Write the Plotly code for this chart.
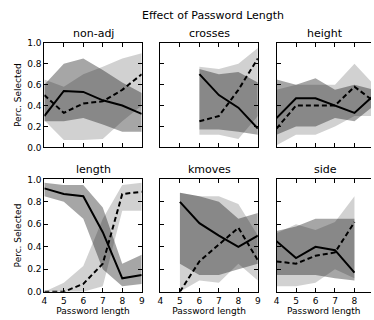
import plotly.graph_objects as go

W, H = 374, 320

panel_names = ["non-adj", "crosses", "height", "length", "kmoves", "side"]

# x values (password length) per panel
x_nonadj = [4, 5, 6, 7, 8, 9]
x_crosses = [6, 7, 8, 9]
x_height = [4, 5, 6, 7, 8, 9]
x_length = [4, 5, 6, 7, 8, 9]
x_kmoves = [5, 6, 7, 8, 9]
x_side = [4, 5, 6, 7, 8]

# solid line series and its band, dashed series and its band
solid_nonadj = [0.30, 0.54, 0.53, 0.45, 0.40, 0.32]
solid_lo_nonadj = [0.25, 0.25, 0.28, 0.22, 0.15, 0.15]
solid_hi_nonadj = [0.60, 0.80, 0.85, 0.74, 0.62, 0.52]
dash_nonadj = [0.50, 0.33, 0.42, 0.44, 0.55, 0.70]
dash_lo_nonadj = [0.26, 0.07, 0.07, 0.08, 0.25, 0.40]
dash_hi_nonadj = [0.65, 0.58, 0.70, 0.77, 0.85, 0.90]

solid_crosses = [0.70, 0.50, 0.38, 0.18]
solid_lo_crosses = [0.17, 0.17, 0.15, 0.12]
solid_hi_crosses = [0.75, 0.70, 0.72, 0.62]
dash_crosses = [0.25, 0.30, 0.55, 0.85]
dash_lo_crosses = [0.12, 0.12, 0.08, 0.30]
dash_hi_crosses = [0.77, 0.75, 0.80, 0.95]

solid_height = [0.28, 0.47, 0.47, 0.40, 0.33, 0.50]
solid_lo_height = [0.12, 0.20, 0.20, 0.28, 0.25, 0.40]
solid_hi_height = [0.65, 0.60, 0.66, 0.55, 0.60, 0.55]
dash_height = [0.18, 0.40, 0.40, 0.40, 0.58, 0.44]
dash_lo_height = [0.02, 0.12, 0.12, 0.20, 0.30, 0.30]
dash_hi_height = [0.55, 0.60, 0.60, 0.60, 0.80, 0.60]

solid_length = [0.92, 0.87, 0.85, 0.53, 0.12, 0.15]
solid_lo_length = [0.85, 0.80, 0.65, 0.20, 0.05, 0.07]
solid_hi_length = [0.97, 0.95, 0.95, 0.75, 0.25, 0.33]
dash_length = [0.00, 0.00, 0.07, 0.25, 0.87, 0.89]
dash_lo_length = [0.00, 0.00, 0.00, 0.05, 0.72, 0.72]
dash_hi_length = [0.00, 0.08, 0.23, 0.65, 0.95, 0.97]

solid_kmoves = [0.80, 0.61, 0.50, 0.40, 0.50]
solid_lo_kmoves = [0.25, 0.15, 0.15, 0.20, 0.25]
solid_hi_kmoves = [0.88, 0.85, 0.80, 0.65, 0.70]
dash_kmoves = [0.00, 0.27, 0.42, 0.57, 0.28]
dash_lo_kmoves = [0.00, 0.10, 0.08, 0.25, 0.10]
dash_hi_kmoves = [0.88, 0.85, 0.85, 0.78, 0.50]

solid_side = [0.45, 0.30, 0.40, 0.37, 0.17]
solid_lo_side = [0.15, 0.15, 0.15, 0.12, 0.10]
solid_hi_side = [0.54, 0.58, 0.65, 0.65, 0.65]
dash_side = [0.27, 0.25, 0.32, 0.35, 0.62]
dash_lo_side = [0.05, 0.05, 0.08, 0.20, 0.12]
dash_hi_side = [0.52, 0.60, 0.55, 0.62, 0.85]

x_ticks = [4, 5, 6, 7, 8, 9]
y_ticks = [0.0, 0.2, 0.4, 0.6, 0.8, 1.0]
y_ticklabels = ["0.0", "0.2", "0.4", "0.6", "0.8", "1.0"]

panels = [
    (x_nonadj, solid_nonadj, solid_lo_nonadj, solid_hi_nonadj, dash_nonadj, dash_lo_nonadj, dash_hi_nonadj),
    (x_crosses, solid_crosses, solid_lo_crosses, solid_hi_crosses, dash_crosses, dash_lo_crosses, dash_hi_crosses),
    (x_height, solid_height, solid_lo_height, solid_hi_height, dash_height, dash_lo_height, dash_hi_height),
    (x_length, solid_length, solid_lo_length, solid_hi_length, dash_length, dash_lo_length, dash_hi_length),
    (x_kmoves, solid_kmoves, solid_lo_kmoves, solid_hi_kmoves, dash_kmoves, dash_lo_kmoves, dash_hi_kmoves),
    (x_side, solid_side, solid_lo_side, solid_hi_side, dash_side, dash_lo_side, dash_hi_side),
]

# pixel layout
col_px = [(42, 141), (160, 259), (278, 377)]
row_px = [(39, 147), (180, 296)]
FONT = "DejaVu Sans"

fig = go.Figure()
layout = dict(
    width=W, height=H, margin=dict(l=0, r=0, t=0, b=0),
    paper_bgcolor="white", plot_bgcolor="white", showlegend=False,
    font=dict(family=FONT, color="black", size=9),
)
annotations = []

for i, (xs, s, slo, shi, d, dlo, dhi) in enumerate(panels):
    r, c = divmod(i, 3)
    n = i + 1
    xa = "x" if n == 1 else f"x{n}"
    ya = "y" if n == 1 else f"y{n}"
    fig.add_trace(go.Scatter(x=xs + xs[::-1], y=dhi + dlo[::-1], fill="toself",
                             fillcolor="rgba(0,0,0,0.18)", line=dict(width=0),
                             mode="lines", hoverinfo="skip", xaxis=xa, yaxis=ya))
    fig.add_trace(go.Scatter(x=xs + xs[::-1], y=shi + slo[::-1], fill="toself",
                             fillcolor="rgba(0,0,0,0.35)", line=dict(width=0),
                             mode="lines", hoverinfo="skip", xaxis=xa, yaxis=ya))
    fig.add_trace(go.Scatter(x=xs, y=s, mode="lines", line=dict(color="black", width=2),
                             xaxis=xa, yaxis=ya))
    fig.add_trace(go.Scatter(x=xs, y=d, mode="lines",
                             line=dict(color="black", width=2, dash="5px,3px"),
                             xaxis=xa, yaxis=ya))
    x0, x1 = col_px[c]
    y0, y1 = row_px[r]
    xr1 = 4 + (min(x1, W) - x0) / ((x1 - x0) / 5.0)
    xkey = "xaxis" if n == 1 else f"xaxis{n}"
    ykey = "yaxis" if n == 1 else f"yaxis{n}"
    clipped = x1 > W
    layout[xkey] = dict(
        domain=[x0 / W, min(x1, W) / W], range=[4, xr1], anchor=ya,
        tickvals=x_ticks, ticks="inside", ticklen=4, tickcolor="black",
        showticklabels=(r == 1), showline=True, linecolor="black", linewidth=1,
        mirror="ticks", showgrid=False, zeroline=False,
        tickfont=dict(family=FONT, size=9),
    )
    layout[ykey] = dict(
        domain=[1 - y1 / H, 1 - y0 / H], range=[0, 1], anchor=xa,
        tickvals=y_ticks, ticktext=y_ticklabels, ticks="inside", ticklen=4, tickcolor="black",
        showticklabels=(c == 0), showline=True, linecolor="black", linewidth=1,
        mirror=(False if clipped else "ticks"), showgrid=False, zeroline=False,
        tickfont=dict(family=FONT, size=9),
    )
    if r == 1:
        layout[xkey]["title"] = dict(text="Password length", font=dict(family=FONT, size=9), standoff=0)
    if c == 0:
        layout[ykey]["title"] = dict(text="Perc. Selected", font=dict(family=FONT, size=9), standoff=4)
    annotations.append(dict(text=panel_names[i], x=(x0 + x1) / 2 / W, y=1 - (y0 - 1) / H,
                            xref="paper", yref="paper", xanchor="center", yanchor="bottom",
                            showarrow=False, font=dict(family=FONT, size=11)))

annotations.append(dict(text="Effect of Password Length", x=213 / W, y=1 - 2 / H,
                        xref="paper", yref="paper", xanchor="center", yanchor="top",
                        showarrow=False, font=dict(family=FONT, size=11)))
layout["annotations"] = annotations
fig.update_layout(**layout)
fig.write_html("out.html", config={"displayModeBar": False},
               post_script="document.body.style.margin='0';")
